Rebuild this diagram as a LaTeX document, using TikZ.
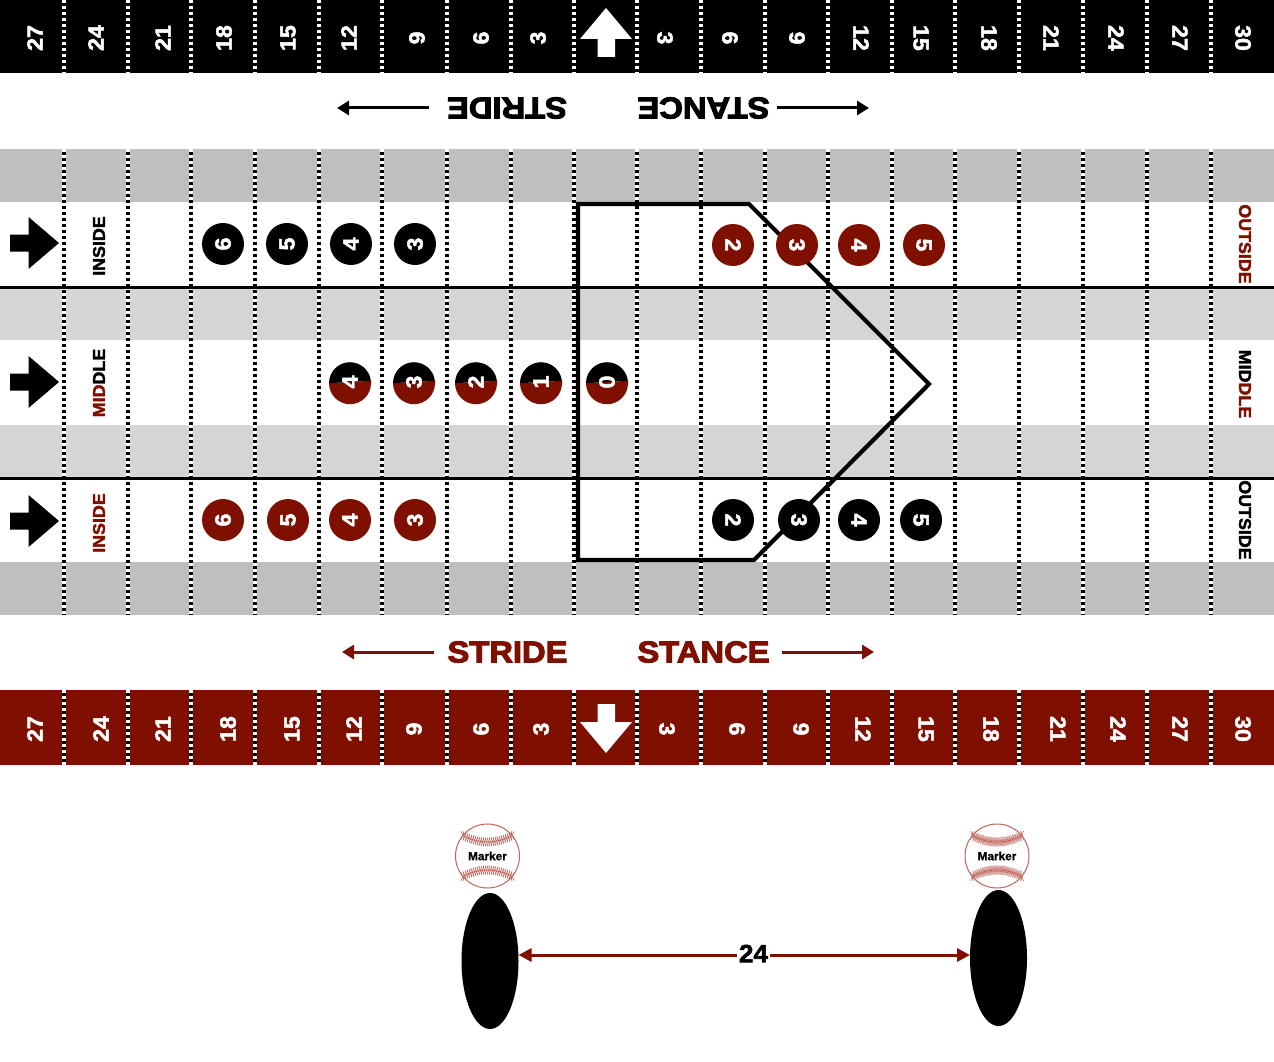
\documentclass[tikz,border=0pt]{standalone}
\usepackage{fontspec}
\usetikzlibrary{arrows.meta,shapes.geometric}
\newfontfamily\blk[UprightFont=* Bold,FakeBold=2.2,FakeStretch=1.05]{Liberation Sans}
\newfontfamily\blkw[UprightFont=* Bold,FakeBold=3.5,FakeStretch=1.09]{Liberation Sans}
\newfontfamily\mrk[UprightFont=* Bold,FakeBold=1]{Liberation Sans}
\definecolor{dred}{HTML}{7F1000}
\definecolor{gA}{HTML}{BFBFBF}
\definecolor{gB}{HTML}{D5D5D5}
\definecolor{seam}{HTML}{C0655C}
\tikzset{
  band num/.style={text=white,font=\blk\fontsize{22}{22}\selectfont,inner sep=0pt},
  disc/.style={circle,minimum size=42pt,inner sep=0pt,text=white,font=\blk\fontsize{22}{22}\selectfont},
  side label/.style={inner sep=0pt,font=\blk\fontsize{17}{18}\selectfont},
  big label/.style={inner sep=0pt,font=\blkw\fontsize{30}{30}\selectfont},
  gridH/.style={line width=4.2pt,white!92!black},
  gridA/.style={line width=3.2pt,black},
  gridB/.style={line width=3.2pt,white,dash pattern=on 3pt off 3pt},
  flow/.style={line width=3pt,-{Triangle[length=12pt,width=14pt]}},
  foot/.style={ellipse,fill=black,minimum width=57pt,minimum height=136pt,inner sep=0pt},
}
\newcommand{\gridline}[2]{%
  \foreach \gx in {64,128,191,255,319,382,447,511,574,637,701,765,828,892,955,1019,1083,1147,1211}{
    \draw[gridA] (\gx,#1) -- (\gx,#2);
    \draw[gridB] (\gx,#1) -- (\gx,#2);
  }}
\newcommand{\gridhalo}[2]{%
  \foreach \gx in {64,128,191,255,319,382,447,511,574,637,701,765,828,892,955,1019,1083,1147,1211}{
    \draw[gridH] (\gx,#1) -- (\gx,#2);
  }}
\newcommand{\pointer}[1]{%
  \fill[black] (10,#1-8.5) -- (28.5,#1-8.5) -- (28.5,#1-26) -- (59,#1) -- (28.5,#1+26) -- (28.5,#1+8.5) -- (10,#1+8.5) -- cycle;}
\newcommand{\splitdisc}[2]{%
  \fill[dred] (#1-21,383.2) arc[start angle=180,end angle=0,radius=21] -- (#1+21,380.8) -- cycle;
  \fill[black] (#1-21,383.2) arc[start angle=180,end angle=360,radius=21] -- (#1+21,380.8) -- cycle;
  \node[disc,rotate=90] (split#2) at (#1,382) {#2};}
\newcommand{\baseball}[3]{%
  \node[circle,draw=seam,line width=1pt,fill=white,minimum size=64pt,inner sep=0pt,
        font=\mrk\fontsize{11.8}{12}\selectfont] (#3) at (#1,#2) {Marker};
  \foreach \sgn in {-1,1}{
    \draw[seam,line width=.9pt] plot[domain=-25:25,samples=30] ({#1+\x},{#2+\sgn*(14+0.0105*\x*\x)});
    \foreach \tt in {-25,-23,...,25}{
      \pgfmathsetmacro{\ty}{14+0.0105*\tt*\tt}
      \draw[seam,line width=.5pt] ({#1+\tt-1.5},{#2+\sgn*(\ty-4.4)}) -- ({#1+\tt},{#2+\sgn*\ty}) -- ({#1+\tt-1.5},{#2+\sgn*(\ty+4.4)});
      \draw[seam,line width=.5pt] ({#1+\tt+1.5},{#2+\sgn*(\ty-4.4)}) -- ({#1+\tt},{#2+\sgn*\ty}) -- ({#1+\tt+1.5},{#2+\sgn*(\ty+4.4)});
    }}}
\begin{document}
\begin{tikzpicture}[x=1pt,y=-1pt]
\useasboundingbox (0,0) rectangle (1274,1062);
\fill[white] (0,0) rectangle (1274,1062);
% bands
\fill[black] (0,0) rectangle (1274,73);
\fill[gA] (0,149) rectangle (1274,202);
\fill[gB] (0,287) rectangle (1274,340);
\fill[gB] (0,425) rectangle (1274,478);
\fill[gA] (0,562) rectangle (1274,615);
\fill[dred] (0,690) rectangle (1274,765);
% grid
\gridhalo{149}{615}
\gridline{0}{73}
\gridline{149}{615}
\gridline{690}{765}
% row rules
\draw[black,line width=3pt] (0,287) -- (1274,287);
\draw[black,line width=3pt] (0,478) -- (1274,478);
% plate
\draw[black,line width=4.2pt,miter limit=10] (578,204) -- (749,204) -- (929,384) -- (754,560) -- (578,560) -- cycle;
% top band numbers
\foreach \px/\lab in {35/27,96/24,163/21,224/18,288/15,349/12,417/9,481/6,538/3}
  \node[band num,rotate=90] (t\px) at (\px,38) {\lab};
\foreach \px/\lab in {665/3,730/6,797/9,861/12,921/15,989/18,1051/21,1116/24,1180/27,1243/30}
  \node[band num,rotate=-90] (t\px) at (\px,38) {\lab};
% bottom band numbers
\foreach \px/\lab in {35/27,101/24,163/21,228/18,292/15,354/12,414/9,481/6,541/3}
  \node[band num,rotate=90] (b\px) at (\px,729) {\lab};
\foreach \px/\lab in {667/3,737/6,801/9,863/12,926/15,991/18,1058/21,1118/24,1180/27,1243/30}
  \node[band num,rotate=-90] (b\px) at (\px,729) {\lab};
% band arrows
\fill[white] (606,8) -- (632,39) -- (615,39) -- (615,57) -- (597.5,57) -- (597.5,39) -- (580,39) -- cycle;
\fill[white] (606,753) -- (632,722) -- (615,722) -- (615,704) -- (597.5,704) -- (597.5,722) -- (580,722) -- cycle;
% stride / stance top
\node[big label,rotate=180] (strideT) at (507,108) {STRIDE};
\node[big label,rotate=180] (stanceT) at (703.5,108) {STANCE};
\coordinate (strideTend) at (337,108);
\coordinate (stanceTend) at (869,108);
\draw[flow,black] (429,108) -- (strideTend);
\draw[flow,black] (777,108) -- (stanceTend);
% stride / stance bottom
\node[big label,text=dred] (strideB) at (507.5,652) {STRIDE};
\node[big label,text=dred] (stanceB) at (703.5,652) {STANCE};
\coordinate (strideBend) at (342,652);
\coordinate (stanceBend) at (874,652);
\draw[flow,dred] (434,652) -- (strideBend);
\draw[flow,dred] (782,652) -- (stanceBend);
% pointers
\pointer{243}
\pointer{382}
\pointer{521}
% side labels
\node[side label,rotate=90] (inA) at (99,246) {INSIDE};
\node[side label,rotate=90] (midL) at (99,383) {\textcolor{dred}{MID}DLE};
\node[side label,rotate=90,text=dred] (inB) at (99,523) {INSIDE};
\node[side label,rotate=-90,text=dred] (outA) at (1245,244) {OUTSIDE};
\node[side label,rotate=-90] (midR) at (1245,384) {MID\textcolor{dred}{DLE}};
\node[side label,rotate=-90] (outB) at (1245,520) {OUTSIDE};
% discs row 1
\foreach \px/\lab in {223/6,287/5,351/4,415/3}
  \node[disc,fill=black,rotate=90] (ra\lab) at (\px,244) {\lab};
\foreach \px/\lab in {733/2,797/3,859/4,924/5}
  \node[disc,fill=dred,rotate=-90] (rb\lab) at (\px,245) {\lab};
% discs row 3
\foreach \px/\lab in {223/6,288/5,350/4,415/3}
  \node[disc,fill=dred,rotate=90] (rc\lab) at (\px,520) {\lab};
\foreach \px/\lab in {733/2,799/3,859/4,921/5}
  \node[disc,fill=black,rotate=-90] (rd\lab) at (\px,520) {\lab};
% discs row 2
\splitdisc{350}{4}
\splitdisc{414}{3}
\splitdisc{476}{2}
\splitdisc{541}{1}
\splitdisc{607}{0}
% markers
\baseball{487.5}{856}{markerL}
\baseball{997}{856}{markerR}
\node[foot] (footL) at (490,961) {};
\node[foot] (footR) at (998.5,958) {};
\node[fill=white,inner sep=1.5pt,font=\blk\fontsize{25}{25}\selectfont] (dist) at (753.5,953.5) {24};
\coordinate (footLp) at (518.5,955);
\coordinate (footRp) at (970,955);
\draw[dred,line width=3pt,-{Triangle[length=13pt,width=13pt]}] (dist.west |- footLp) -- (footLp);
\draw[dred,line width=3pt,-{Triangle[length=13pt,width=13pt]}] (dist.east |- footRp) -- (footRp);
\end{tikzpicture}
\end{document}
